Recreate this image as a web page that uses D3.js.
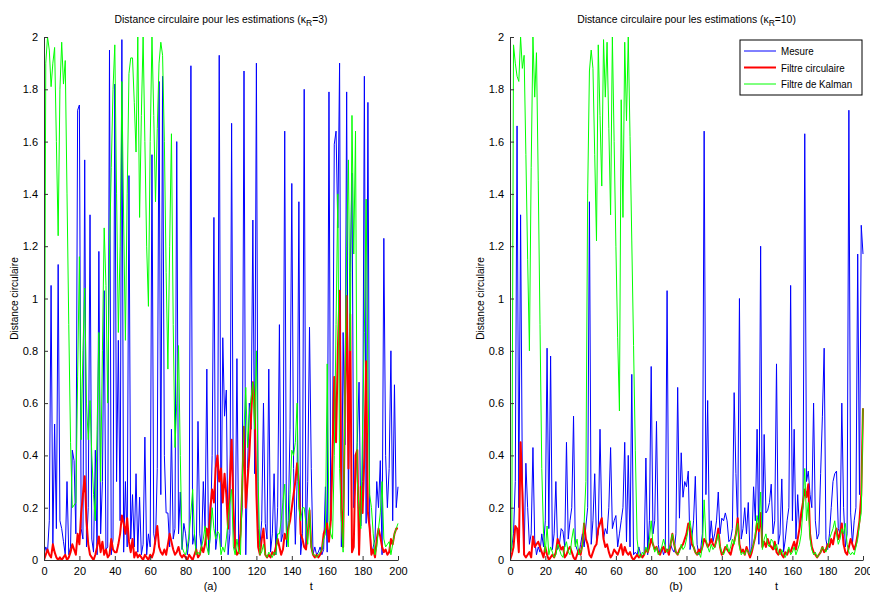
<!DOCTYPE html>
<html><head><meta charset="utf-8">
<script src="https://cdn.jsdelivr.net/npm/d3@7"></script>
<style>
body{margin:0;background:#fff;}
text{font-family:"Liberation Sans Narrow","Arial Narrow","Liberation Sans",Arial,sans-serif;fill:#000;}
</style></head>
<body>
<svg id="c" width="870" height="594"></svg>
<script>
const tValues = d3.range(0, 201);
const yTicks = [0,0.2,0.4,0.6,0.8,1,1.2,1.4,1.6,1.8,2];
const xTicks = [0,20,40,60,80,100,120,140,160,180,200];
const seriesNames = ["Mesure","Filtre circulaire","Filtre de Kalman"];
const panelTitles = ["3","10"];
const panelLetters = ["(a)","(b)"];

const mesureA = [0.02,0.05,0.03,0.15,1.05,0.06,0.52,0.12,1.13,0.15,0.12,0.07,0.02,0.30,0.02,0.05,0.42,0.38,0.10,1.72,
1.74,0.12,0.08,1.53,0.05,0.20,1.32,0.08,0.03,0.42,0.02,1.18,0.10,0.30,1.03,0.04,0.05,1.95,0.02,0.08,
1.82,0.30,0.84,0.15,1.99,0.03,0.30,0.05,1.47,0.08,0.25,0.05,0.33,0.03,0.24,0.02,0.06,0.47,0.02,0.10,
0.05,1.55,0.10,0.06,0.35,1.83,0.25,1.85,0.40,0.18,0.18,0.05,0.50,0.08,0.12,1.60,0.10,0.26,0.04,0.14,
0.10,0.02,0.08,1.89,0.06,0.10,0.02,0.53,0.10,0.04,0.30,0.12,0.73,0.02,0.10,0.40,1.31,0.04,0.10,1.93,
0.05,0.85,0.55,0.65,0.02,0.10,1.67,0.13,0.04,0.77,0.05,0.10,0.20,1.87,0.02,0.35,0.60,0.50,1.30,0.33,
1.90,0.12,0.05,0.15,0.60,0.14,0.08,0.73,0.03,0.10,0.33,0.02,0.20,0.90,0.07,0.10,1.64,0.05,0.15,0.50,
1.44,0.35,0.06,0.30,1.37,0.02,0.10,1.80,0.05,0.30,0.89,0.35,0.02,0.05,0.02,0.03,0.05,0.02,0.04,0.28,
0.03,1.79,0.15,0.40,1.59,1.64,1.27,1.90,0.05,0.87,0.44,1.79,0.17,1.10,1.48,0.20,0.30,0.45,0.68,0.13,
0.30,1.85,0.14,1.75,0.14,0.02,0.05,0.08,0.30,0.20,0.38,0.02,1.23,0.40,0.20,0.35,0.80,0.15,0.67,0.20,0.28];

const circA = [0.00,0.02,0.04,0.02,0.01,0.06,0.03,0.01,0.00,0.01,0.00,0.01,0.02,0.00,0.01,0.03,0.06,0.04,0.02,0.10,
0.06,0.18,0.25,0.32,0.15,0.06,0.02,0.01,0.00,0.02,0.05,0.09,0.03,0.07,0.02,0.04,0.01,0.02,0.08,0.04,
0.03,0.03,0.06,0.10,0.17,0.14,0.10,0.16,0.07,0.03,0.08,0.01,0.03,0.01,0.02,0.01,0.00,0.02,0.01,0.00,
0.02,0.01,0.03,0.08,0.13,0.05,0.03,0.02,0.04,0.02,0.06,0.10,0.07,0.04,0.02,0.03,0.05,0.02,0.01,0.02,
0.01,0.00,0.02,0.01,0.00,0.02,0.04,0.01,0.02,0.05,0.03,0.06,0.12,0.08,0.20,0.27,0.22,0.35,0.40,0.30,
0.35,0.22,0.33,0.25,0.12,0.30,0.46,0.20,0.05,0.02,0.03,0.10,0.28,0.51,0.20,0.30,0.40,0.55,0.68,0.60,
0.25,0.05,0.02,0.08,0.12,0.02,0.01,0.02,0.01,0.03,0.02,0.05,0.08,0.05,0.02,0.04,0.10,0.08,0.12,0.15,
0.20,0.25,0.30,0.37,0.30,0.10,0.08,0.05,0.04,0.10,0.19,0.05,0.02,0.01,0.02,0.01,0.02,0.04,0.10,0.12,
0.14,0.07,0.15,0.40,0.70,0.45,0.80,1.03,0.20,0.05,0.60,1.01,0.35,0.94,0.03,0.05,0.40,0.42,0.02,0.28,
0.18,0.40,0.76,0.18,0.12,0.02,0.04,0.01,0.08,0.12,0.09,0.05,0.03,0.04,0.02,0.03,0.08,0.06,0.10,0.12,0.12];

const kalmanA = [0.02,1.90,2.00,1.95,1.81,1.90,1.96,1.60,1.24,1.80,1.98,1.82,1.91,1.40,0.90,0.45,0.20,0.21,0.22,0.70,
1.16,0.46,0.80,1.04,0.60,0.46,0.61,0.40,0.25,0.15,0.50,0.87,0.30,0.80,1.27,1.05,0.60,1.17,1.50,1.80,
1.97,1.40,0.87,1.20,1.83,1.30,0.84,1.40,1.86,1.92,1.92,1.75,1.56,2.00,1.31,1.70,2.00,1.60,1.20,0.97,
1.60,2.00,1.70,1.37,1.65,1.90,1.98,1.93,1.60,1.10,0.73,1.20,1.63,0.90,0.43,0.60,0.82,0.40,0.05,0.03,
0.02,0.05,0.10,0.18,0.27,0.10,0.02,0.03,0.02,0.05,0.08,0.13,0.05,0.02,0.10,0.20,0.12,0.08,0.11,0.10,
0.02,0.05,0.03,0.08,0.15,0.22,0.27,0.05,0.02,0.08,0.03,0.02,0.30,0.50,0.66,0.43,0.55,0.62,0.68,0.50,
0.80,0.30,0.02,0.03,0.06,0.02,0.01,0.03,0.02,0.01,0.03,0.02,0.10,0.10,0.15,0.22,0.29,0.10,0.05,0.25,
0.42,0.40,0.45,0.60,0.20,0.15,0.20,0.20,0.14,0.06,0.20,0.05,0.02,0.02,0.01,0.02,0.03,0.04,0.08,0.10,
0.75,0.15,0.10,0.08,0.40,0.90,1.40,0.35,0.15,0.03,0.60,1.20,1.53,0.80,1.70,1.17,1.64,0.30,0.20,0.12,
0.50,0.87,1.38,0.70,0.25,0.20,0.10,0.02,0.05,0.12,0.18,0.30,0.08,0.05,0.06,0.07,0.02,0.06,0.10,0.12,0.14];

const mesureB = [0.02,0.05,0.10,0.30,1.66,0.20,1.32,0.30,0.02,0.37,0.20,0.06,0.10,0.43,0.08,0.02,0.05,0.03,0.10,0.05,
0.15,0.81,0.12,0.78,0.04,0.10,0.30,0.04,0.06,0.12,0.11,0.05,0.45,0.08,0.15,0.20,0.55,0.06,0.04,0.02,
0.06,0.10,0.05,0.13,0.20,1.37,0.06,0.15,0.33,0.08,0.10,0.50,0.15,0.08,0.12,0.10,0.20,0.43,0.12,0.15,
0.17,0.05,0.10,0.15,0.20,0.45,0.07,0.40,0.05,0.71,0.02,0.03,0.02,0.05,0.02,0.01,0.03,0.39,0.02,0.15,
0.74,0.10,0.15,0.53,0.06,0.02,0.05,0.02,0.04,1.03,0.02,0.06,0.04,0.03,0.10,0.66,0.16,0.41,0.24,0.30,
0.28,0.34,0.04,0.08,0.15,0.32,0.06,0.02,0.04,0.10,1.64,0.25,0.61,0.06,0.15,0.07,0.10,0.15,0.26,0.10,
0.16,0.15,0.18,0.15,0.07,0.08,0.12,0.64,0.33,0.12,1.00,0.08,0.12,0.20,0.10,0.22,0.02,0.05,0.28,0.15,
0.50,0.06,1.20,0.08,0.48,0.18,0.19,0.22,0.29,0.10,0.15,0.75,0.06,0.10,0.31,0.03,0.08,0.15,0.20,1.05,
0.15,0.50,0.08,0.25,0.12,0.16,0.20,1.63,0.30,0.34,0.25,0.20,0.60,0.15,0.08,0.10,0.33,0.55,0.81,0.08,
0.04,0.10,0.20,0.30,0.33,0.34,0.12,0.10,0.60,0.20,0.05,0.10,1.72,0.18,0.06,0.15,0.20,1.17,0.25,1.28,1.17];

const circB = [0.00,0.02,0.05,0.13,0.12,0.03,0.45,0.26,0.02,0.01,0.02,0.03,0.01,0.09,0.05,0.06,0.07,0.05,0.03,0.01,
0.05,0.02,0.00,0.01,0.02,0.01,0.03,0.08,0.06,0.04,0.05,0.01,0.02,0.04,0.05,0.03,0.01,0.00,0.02,0.04,
0.02,0.06,0.14,0.08,0.06,0.02,0.01,0.03,0.05,0.06,0.12,0.14,0.16,0.08,0.05,0.06,0.03,0.01,0.02,0.04,
0.03,0.02,0.04,0.06,0.02,0.05,0.03,0.02,0.03,0.01,0.00,0.01,0.02,0.01,0.02,0.01,0.02,0.04,0.03,0.05,
0.08,0.06,0.04,0.05,0.03,0.02,0.04,0.05,0.03,0.04,0.02,0.06,0.10,0.06,0.03,0.02,0.04,0.05,0.06,0.08,
0.10,0.14,0.12,0.06,0.05,0.03,0.02,0.04,0.03,0.05,0.08,0.07,0.05,0.06,0.08,0.06,0.05,0.08,0.12,0.05,
0.02,0.03,0.05,0.04,0.03,0.02,0.05,0.07,0.10,0.16,0.06,0.03,0.04,0.02,0.05,0.03,0.01,0.03,0.06,0.09,
0.14,0.11,0.18,0.05,0.07,0.05,0.08,0.06,0.05,0.04,0.07,0.03,0.02,0.04,0.02,0.01,0.03,0.02,0.04,0.03,
0.05,0.07,0.04,0.08,0.12,0.18,0.22,0.27,0.24,0.29,0.10,0.05,0.03,0.02,0.01,0.02,0.03,0.05,0.03,0.04,
0.06,0.05,0.08,0.06,0.10,0.12,0.08,0.10,0.14,0.06,0.03,0.02,0.05,0.08,0.06,0.04,0.06,0.10,0.15,0.25,0.58];

const kalmanB = [0.02,0.05,1.97,1.90,1.85,1.83,2.00,1.88,1.93,1.55,1.15,0.80,1.50,2.00,1.77,1.94,1.45,0.90,0.35,0.10,
0.03,0.13,0.02,0.05,0.03,0.01,0.02,0.06,0.04,0.02,0.01,0.05,0.07,0.03,0.02,0.08,0.12,0.05,0.08,0.02,
0.03,0.05,0.14,0.30,1.40,1.87,1.95,1.88,1.55,1.22,1.97,1.70,1.43,1.99,1.77,1.98,1.65,1.32,2.00,1.60,
1.20,0.85,0.57,1.76,1.31,1.98,1.68,2.00,1.62,1.22,0.82,0.42,0.08,0.02,0.01,0.03,0.02,0.05,0.03,0.08,
0.15,0.06,0.03,0.05,0.02,0.03,0.05,0.08,0.05,0.03,0.04,0.06,0.10,0.06,0.03,0.02,0.03,0.06,0.04,0.05,
0.08,0.12,0.15,0.10,0.05,0.03,0.02,0.03,0.01,0.05,0.23,0.08,0.05,0.03,0.06,0.04,0.05,0.07,0.10,0.05,
0.03,0.02,0.04,0.06,0.03,0.05,0.08,0.06,0.10,0.14,0.05,0.02,0.03,0.02,0.04,0.03,0.02,0.04,0.06,0.10,
0.17,0.12,0.26,0.04,0.08,0.10,0.06,0.05,0.08,0.07,0.04,0.06,0.03,0.02,0.04,0.02,0.01,0.03,0.05,0.02,
0.03,0.05,0.02,0.04,0.06,0.10,0.20,0.35,0.15,0.22,0.08,0.04,0.02,0.03,0.01,0.02,0.03,0.05,0.04,0.03,
0.05,0.08,0.10,0.12,0.15,0.10,0.06,0.08,0.12,0.10,0.14,0.06,0.03,0.02,0.03,0.02,0.05,0.08,0.14,0.18,0.58];

const panels = [
  {left:44, right:398, series:[mesureA, circA, kalmanA], titleW:213},
  {left:510, right:863, series:[mesureB, circB, kalmanB], titleW:219, legend:true}
];
const plotTop = 37, plotBottom = 560;
const colors = ["#0000ff","#ff0000","#00ff00"];
const widths = [1, 2, 1];
const fontStack = '"Liberation Sans Narrow","Arial Narrow","Liberation Sans",Arial,sans-serif';

const svg = d3.select("#c");

// horizontally condense a text element (anchored at its own origin) to a target width
function condense(sel, targetW, ox, oy) {
  const w = sel.node().getComputedTextLength();
  const s = Math.min(1, targetW / w);
  sel.attr("transform", `translate(${ox},${oy}) scale(${s},1)`);
}

panels.forEach((p, pi) => {
  const x = d3.scaleLinear().domain([0,200]).range([p.left, p.right]);
  const y = d3.scaleLinear().domain([0,2]).range([plotBottom, plotTop]);
  const g = svg.append("g");

  g.append("clipPath").attr("id","clip"+pi).append("rect")
    .attr("x",p.left).attr("y",plotTop-1).attr("width",p.right-p.left+1).attr("height",plotBottom-plotTop+1);

  const line = d3.line().x((d,i)=>x(tValues[i])).y(d=>y(d));
  const lg = g.append("g").attr("clip-path","url(#clip"+pi+")");
  p.series.forEach((s, si) => {
    lg.append("path").datum(s).attr("d", line)
      .attr("fill","none").attr("stroke",colors[si]).attr("stroke-width",widths[si])
      .attr("stroke-linejoin","round");
  });

  const axL = d3.axisLeft(y).tickValues(yTicks).tickSizeInner(-4).tickSizeOuter(0).tickPadding(6)
    .tickFormat(d3.format("~g"));
  const axB = d3.axisBottom(x).tickValues(xTicks).tickSizeInner(-4).tickSizeOuter(0).tickPadding(7);
  [[axL,`translate(${p.left},0)`],[axB,`translate(0,${plotBottom})`]]
    .forEach(([ax,tr]) => {
      const a = g.append("g").attr("transform",tr).call(ax);
      a.selectAll("path").attr("stroke","#333").attr("stroke-width",1);
      a.selectAll("line").attr("stroke","#333");
      a.selectAll("text").attr("font-size",11).style("font-family",fontStack);
    });

  const cx = (p.left + p.right) / 2;
  const title = g.append("text").attr("x", 0).attr("y", 0).attr("text-anchor","middle").attr("font-size",11);
  title.append("tspan").text("Distance circulaire pour les estimations (κ");
  title.append("tspan").attr("font-size",9).attr("dy",3).text("R");
  title.append("tspan").attr("dy",-3).text("=" + panelTitles[pi] + ")");
  condense(title, p.titleW, cx, 23);

  const yl = g.append("text").attr("text-anchor","middle").attr("font-size",11).text("Distance circulaire");
  yl.attr("transform",`translate(${p.left-26},${(plotTop+plotBottom)/2}) rotate(-90) scale(0.92,1)`);
  g.append("text").attr("x", x(94)).attr("y", 590).attr("text-anchor","middle").attr("font-size",11).text(panelLetters[pi]);
  g.append("text").attr("x", x(151)).attr("y", 590).attr("text-anchor","middle").attr("font-size",11).text("t");

  if (p.legend) {
    const lx = 740, ly = 40, lw = 122, lh = 55;
    const leg = g.append("g");
    leg.append("rect").attr("x",lx).attr("y",ly).attr("width",lw).attr("height",lh)
      .attr("fill","#fff").attr("stroke","#000").attr("stroke-width",1);
    seriesNames.forEach((n, i) => {
      const yy = ly + 11 + i * 16.5;
      leg.append("line").attr("x1",lx+4).attr("x2",lx+36).attr("y1",yy).attr("y2",yy)
        .attr("stroke",colors[i]).attr("stroke-width",widths[i]);
      const t = leg.append("text").attr("font-size",11).text(n);
      const w = t.node().getComputedTextLength();
      t.attr("transform",`translate(${lx+41},${yy+4}) scale(0.89,1)`);
    });
  }
});
</script>
</body></html>
